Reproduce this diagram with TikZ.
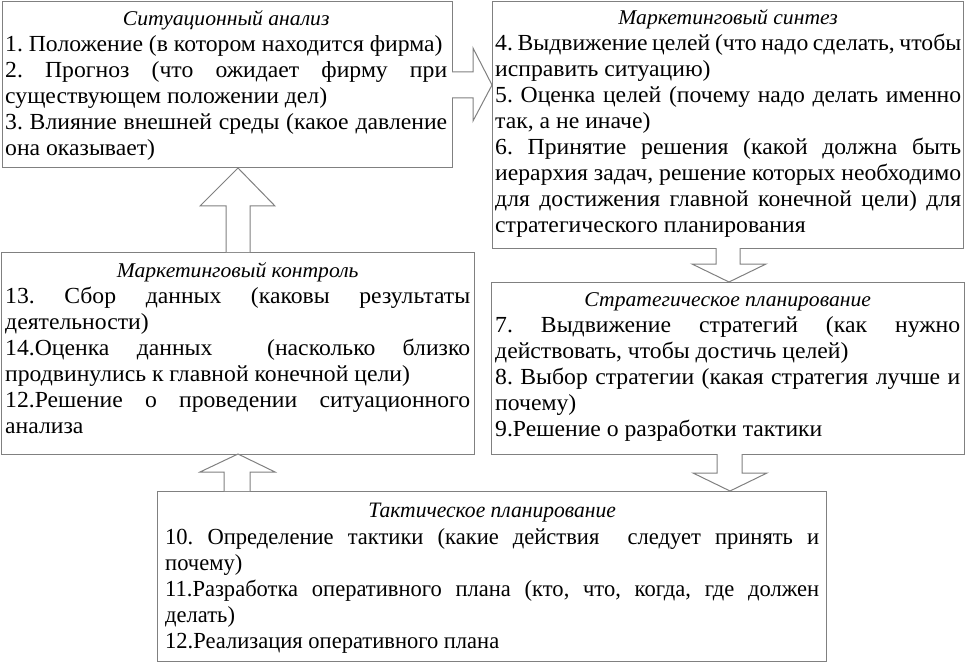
\documentclass[tikz,border=0pt]{standalone}
\usepackage{fontspec}
\setmainfont[FakeStretch=1.03]{Liberation Serif}
\newfontfamily\condfont[FakeStretch=0.98]{Liberation Serif}
\usetikzlibrary{calc}
\definecolor{boxgray}{RGB}{128,128,128}
\hyphenpenalty=10000
\exhyphenpenalty=10000
\tolerance=9999
\frenchspacing
\begin{document}
\begin{tikzpicture}[x=1pt,y=-1pt,
  box/.style={draw=boxgray, line width=1pt, inner sep=0pt, outer sep=0pt, anchor=north west},
  txt/.style={inner sep=0pt, anchor=base west, align=justify, font=\fontsize{23}{26}\selectfont\frenchspacing},
  barrow/.style={draw=boxgray, line width=1pt, line join=miter, fill=white}]
\useasboundingbox (0,0) rectangle (966,663);
% boxes
\node[box, minimum width=450pt, minimum height=166pt] (b1) at (2,2) {};
\node[box, minimum width=471pt, minimum height=246pt] (b2) at (492,2) {};
\node[box, minimum width=473pt, minimum height=202pt] (b3) at (1,252) {};
\node[box, minimum width=473pt, minimum height=172pt] (b4) at (491,282) {};
\node[box, minimum width=669pt, minimum height=170pt] (b5) at (157,491) {};
% texts
\node[txt, text width=442pt] (t1) at ($(b1.north west)+(3,24)$) {%
{\centering\itshape\fontsize{21}{26}\selectfont Ситуационный анализ\par}
1. Положение (в котором находится фирма)\par
2. Прогноз (что ожидает фирму при\linebreak существующем положении дел)\par
3. Влияние внешней среды (какое давление\linebreak она оказывает)\par};
\node[txt, text width=466pt] (t2) at ($(b2.north west)+(3,23)$) {%
{\centering\itshape\fontsize{21}{26}\selectfont Маркетинговый синтез\par}
4. Выдвижение целей (что надо сделать, чтобы\linebreak исправить ситуацию)\par
5. Оценка целей (почему надо делать именно\linebreak так, а не иначе)\par
6. Принятие решения (какой должна быть\linebreak иерархия задач, решение которых необходимо\linebreak для достижения главной конечной цели) для\linebreak стратегического планирования\par};
\node[txt, text width=465pt] (t3) at ($(b3.north west)+(4,25)$) {%
{\centering\itshape\fontsize{21}{26}\selectfont Маркетинговый контроль\par}
13. Сбор данных (каковы результаты\linebreak деятельности)\par
14.Оценка данных\ \ (насколько близко\linebreak продвинулись к главной конечной цели)\par
12.Решение о проведении ситуационного\linebreak анализа\par};
\node[txt, text width=465pt] (t4) at ($(b4.north west)+(4,24)$) {%
{\centering\itshape\fontsize{21}{26}\selectfont Стратегическое планирование\par}
7. Выдвижение стратегий (как нужно\linebreak действовать, чтобы достичь целей)\par
8. Выбор стратегии (какая стратегия лучше и\linebreak почему)\par
9.Решение о разработки тактики\par};
\node[txt, text width=654pt, font=\fontsize{23}{26}\selectfont\condfont\frenchspacing] (t5) at ($(b5.north west)+(8,26)$) {%
{\centering\itshape\fontsize{22}{26}\selectfont Тактическое планирование\par}
\vspace{1pt}
10. Определение тактики (какие действия\ \ следует принять и\linebreak почему)\par
11.Разработка оперативного плана (кто, что, когда, где должен\linebreak делать)\par
12.Реализация оперативного плана\par};
% block arrows
\draw[barrow] (b1.east |- 0,72) -- (473,72) -- (473,48) -- (b2.west |- 0,85) -- (473,121) -- (473,98) -- (b1.east |- 0,98);
\draw[barrow] (226,0 |- b3.north) -- (226,206) -- (200,206) -- (238,0 |- b1.south) -- (275,206) -- (250,206) -- (250,0 |- b3.north);
\draw[barrow] (716,0 |- b2.south) -- (716,264) -- (692,264) -- (729,0 |- b4.north) -- (766,264) -- (740,264) -- (740,0 |- b2.south);
\draw[barrow] (717,0 |- b4.south) -- (717,473) -- (693,473) -- (730,0 |- b5.north) -- (767,473) -- (742,473) -- (742,0 |- b4.south);
\draw[barrow] (224,0 |- b5.north) -- (224,472) -- (200,472) -- (238,0 |- b3.south) -- (275,472) -- (250,472) -- (250,0 |- b5.north);
\end{tikzpicture}
\end{document}
